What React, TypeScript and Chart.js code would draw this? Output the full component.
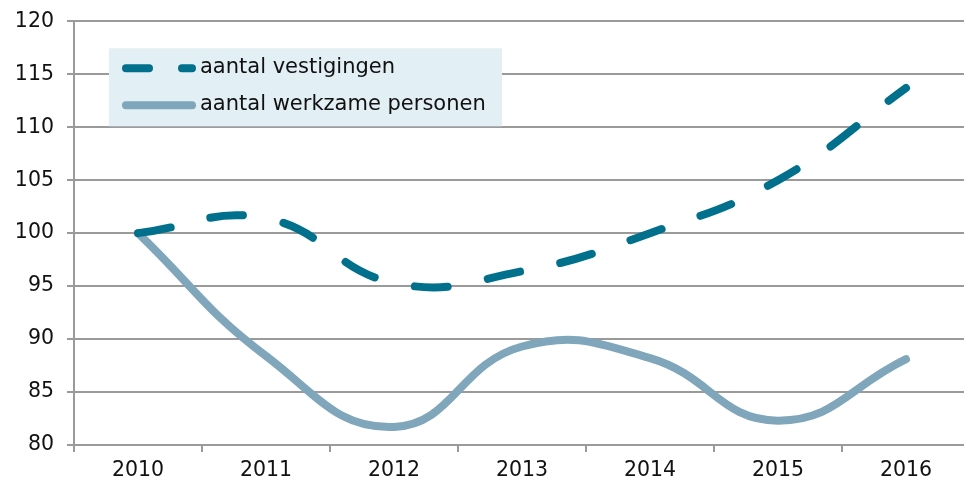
import React, { useEffect, useRef } from "react";
import { Chart, registerables } from "chart.js";

Chart.register(...registerables);

const years = ["2010", "2011", "2012", "2013", "2014", "2015", "2016"];
const vestigingen = [100, 101.4, 95.3, 96.4, 100.0, 105.0, 113.7];
const werkzamePersonen = [100, 88.4, 81.7, 89.3, 88.2, 82.3, 88.1];
const seriesLabels = ["aantal vestigingen", "aantal werkzame personen"];
const yMin = 80;
const yMax = 120;
const yStep = 5;

const FONT = "'DejaVu Sans', Verdana, sans-serif";

const legendPlugin = {
  id: "boxLegend",
  beforeDatasetsDraw(chart: any) {
    const { ctx, chartArea } = chart;
    const x0 = chartArea.left + 35;
    const y0 = chartArea.top + 27;
    const w = 393;
    const h = 78;
    ctx.save();
    ctx.fillStyle = "#e2eff4";
    ctx.fillRect(x0, y0, w, h);
    chart.data.datasets.forEach((ds: any, i: number) => {
      const cy = y0 + 20 + i * 37;
      ctx.beginPath();
      ctx.strokeStyle = ds.borderColor;
      ctx.lineWidth = 8;
      ctx.lineCap = "round";
      ctx.setLineDash(ds.borderDash && ds.borderDash.length ? [23, 33] : []);
      ctx.moveTo(x0 + 17, cy);
      ctx.lineTo(x0 + 83, cy);
      ctx.stroke();
      ctx.setLineDash([]);
      ctx.fillStyle = "#111";
      ctx.font = `21px ${FONT}`;
      ctx.textBaseline = "middle";
      ctx.textAlign = "left";
      ctx.fillText(ds.label, x0 + 91, cy - 1);
    });
    ctx.restore();
  },
};

export default function App() {
  const ref = useRef<HTMLCanvasElement>(null);

  useEffect(() => {
    if (!ref.current) return;
    const chart = new Chart(ref.current, {
      type: "line",
      data: {
        labels: years,
        datasets: [
          {
            label: seriesLabels[0],
            data: vestigingen,
            borderColor: "#00708c",
            borderWidth: 8,
            borderDash: [33, 41],
            borderCapStyle: "round",
            borderJoinStyle: "round",
            pointRadius: 0,
            tension: 0.45,
            fill: false,
          },
          {
            label: seriesLabels[1],
            data: werkzamePersonen,
            borderColor: "#7fa6ba",
            borderWidth: 8,
            borderCapStyle: "round",
            borderJoinStyle: "round",
            pointRadius: 0,
            tension: 0.45,
            fill: false,
          },
        ],
      },
      options: {
        responsive: false,
        animation: false,
        layout: { padding: { left: 0, right: 20, top: 20, bottom: 0 } },
        plugins: {
          legend: { display: false },
          tooltip: { enabled: false },
          title: { display: false },
        },
        scales: {
          x: {
            offset: true,
            afterFit: (s: any) => {
              s.height = 39;
            },
            grid: {
              display: true,
              drawOnChartArea: false,
              drawTicks: true,
              tickLength: 7,
              color: "#9a9a9a",
              lineWidth: 2,
              offset: true,
            },
            border: { display: true, color: "#9a9a9a", width: 2 },
            ticks: {
              color: "#111",
              font: { family: FONT, size: 20.5 },
              padding: 6,
              maxRotation: 0,
            },
          },
          y: {
            min: yMin,
            max: yMax,
            afterFit: (s: any) => {
              s.width = 74;
            },
            grid: {
              color: "#9a9a9a",
              lineWidth: 2,
              tickLength: 7,
            },
            border: { display: true, color: "#9a9a9a", width: 2 },
            ticks: {
              stepSize: yStep,
              color: "#111",
              font: { family: FONT, size: 20.5 },
              padding: 13,
            },
          },
        },
      },
      plugins: [legendPlugin],
    });
    return () => chart.destroy();
  }, []);

  return (
    <div
      style={{
        position: "fixed",
        left: 0,
        top: -4,
        width: 964,
        height: 488,
        overflow: "hidden",
        background: "#fff",
      }}
    >
      <canvas ref={ref} width={990} height={488} style={{ display: "block" }} />
    </div>
  );
}
